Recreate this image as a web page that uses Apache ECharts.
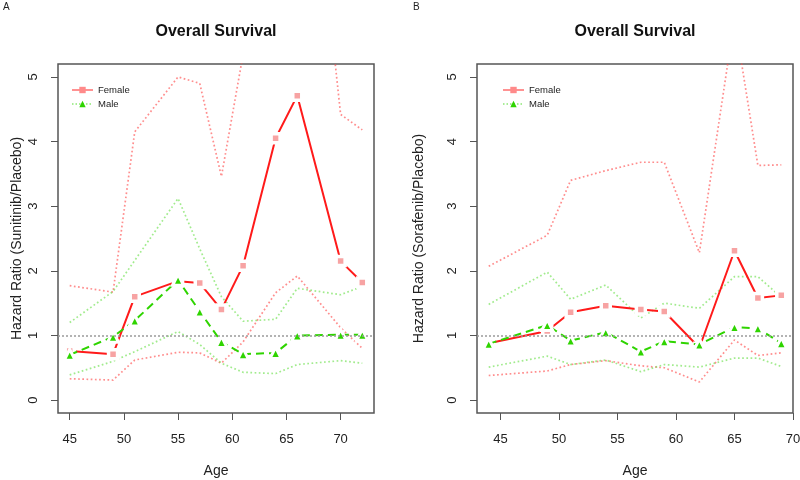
<!DOCTYPE html>
<html>
<head>
<meta charset="utf-8">
<script src="https://cdn.jsdelivr.net/npm/echarts@6/dist/echarts.min.js"></script>
<style>html,body{margin:0;padding:0;background:#fff;}#c{width:800px;height:480px;}</style>
</head>
<body>
<div id="c"></div>
<script>
// Panel A (Sunitinib)
const ageA = [45, 49, 51, 55, 57, 59, 61, 64, 66, 70, 72];
const femaleA = [0.76, 0.71, 1.60, 1.84, 1.81, 1.40, 2.08, 4.05, 4.71, 2.15, 1.82];
const femaleA_lo = [0.33, 0.31, 0.62, 0.74, 0.73, 0.57, 0.90, 1.66, 1.92, 1.12, 0.80];
const femaleA_hi = [1.77, 1.67, 4.15, 5.00, 4.90, 3.46, 5.35, 9.5, 10.7, 4.42, 4.18];
const maleA = [0.70, 0.98, 1.23, 1.86, 1.37, 0.90, 0.71, 0.73, 1.00, 1.01, 1.01];
const maleA_lo = [0.39, 0.60, 0.75, 1.06, 0.86, 0.57, 0.43, 0.41, 0.55, 0.61, 0.57];
const maleA_hi = [1.20, 1.68, 2.16, 3.12, 2.34, 1.60, 1.22, 1.25, 1.73, 1.63, 1.76];

// Panel B (Sorafenib)
const ageB = [44, 49, 51, 54, 57, 59, 62, 65, 67, 69];
const femaleB = [0.88, 1.07, 1.36, 1.46, 1.40, 1.37, 0.81, 2.31, 1.58, 1.62];
const femaleB_lo = [0.38, 0.45, 0.55, 0.61, 0.53, 0.50, 0.28, 0.93, 0.69, 0.73];
const femaleB_hi = [2.07, 2.55, 3.40, 3.55, 3.68, 3.68, 2.28, 5.9, 3.63, 3.64];
const maleB = [0.87, 1.16, 0.92, 1.05, 0.75, 0.91, 0.86, 1.13, 1.11, 0.88];
const maleB_lo = [0.51, 0.68, 0.55, 0.62, 0.44, 0.55, 0.51, 0.65, 0.65, 0.52];
const maleB_hi = [1.48, 1.98, 1.56, 1.78, 1.27, 1.50, 1.42, 1.91, 1.91, 1.59];

const xTicks = [45, 50, 55, 60, 65, 70];
const yTicks = [0, 1, 2, 3, 4, 5];
const titles = ['Overall Survival', 'Overall Survival'];
const panelLabels = ['A', 'B'];
const yNames = ['Hazard Ratio (Sunitinib/Placebo)', 'Hazard Ratio (Sorafenib/Placebo)'];
const xName = 'Age';
const refValue = 1;

const FONT = '"Liberation Sans", Arial, Helvetica, sans-serif';
const pair = (xs, ys) => xs.map((x, i) => [x, ys[i]]);

const grids = [
  {left: 58, top: 64, width: 316, height: 349},
  {left: 477, top: 64, width: 316, height: 349}
];
const xRanges = [[43.92, 73.08], [43, 70]];
const yNameGaps = [34, 51];

function xAxisFor(i) {
  return {
    gridIndex: i, type: 'value', min: xRanges[i][0], max: xRanges[i][1],
    axisLine: {show: false, onZero: false}, splitLine: {show: false},
    axisTick: {show: true, customValues: xTicks, length: 7, lineStyle: {color: '#555', width: 1}},
    axisLabel: {customValues: xTicks, fontSize: 13, color: '#222', margin: 20, fontFamily: FONT},
    name: xName, nameLocation: 'middle', nameGap: 51,
    nameTextStyle: {fontSize: 14, color: '#222', fontFamily: FONT}
  };
}
function yAxisFor(i) {
  return {
    gridIndex: i, type: 'value', min: -0.2, max: 5.2,
    axisLine: {show: false, onZero: false}, splitLine: {show: false},
    axisTick: {show: true, customValues: yTicks, length: 7, lineStyle: {color: '#555', width: 1}},
    axisLabel: {customValues: yTicks, fontSize: 13, color: '#222', margin: 18, rotate: 90, fontFamily: FONT},
    name: yNames[i], nameLocation: 'middle', nameGap: yNameGaps[i],
    nameTextStyle: {fontSize: 14, color: '#222', fontFamily: FONT}
  };
}

const fCI = {color: 'rgba(255,80,80,0.65)', width: 1.7, type: [1.7, 2.5]};
const mCI = {color: 'rgba(110,225,80,0.65)', width: 1.7, type: [1.7, 2.5]};

function ciSeries(i, name, xs, ys, style) {
  return {
    type: 'line', name: name, xAxisIndex: i, yAxisIndex: i, data: pair(xs, ys),
    showSymbol: false, symbol: 'none', lineStyle: style, silent: true, z: 1, clip: true
  };
}

function panelSeries(i, xs, f, flo, fhi, m, mlo, mhi) {
  return [
    ciSeries(i, 'Female upper ' + i, xs, fhi, fCI),
    ciSeries(i, 'Female lower ' + i, xs, flo, fCI),
    ciSeries(i, 'Male upper ' + i, xs, mhi, mCI),
    ciSeries(i, 'Male lower ' + i, xs, mlo, mCI),
    {
      type: 'line', name: 'Female', xAxisIndex: i, yAxisIndex: i, data: pair(xs, f),
      symbol: 'rect', symbolSize: 9, z: 3,
      lineStyle: {color: '#ff1a1a', width: 2},
      itemStyle: {color: '#f7a3a3', borderColor: '#ffffff', borderWidth: 3.5},
      markLine: {
        silent: true, symbol: ['none', 'none'], label: {show: false},
        lineStyle: {color: '#9a9a9a', type: [2, 2], width: 1.5},
        data: [{yAxis: refValue}]
      }
    },
    {
      type: 'line', name: 'Male', xAxisIndex: i, yAxisIndex: i, data: pair(xs, m),
      symbol: 'triangle', symbolSize: 11, z: 4,
      lineStyle: {color: '#2fd400', width: 2, type: [8, 5]},
      itemStyle: {color: '#2fd400', borderColor: '#ffffff', borderWidth: 3}
    }
  ];
}

function legendFor(left) {
  return {
    orient: 'vertical', left: left, top: 85, padding: 0,
    itemWidth: 21, itemHeight: 8, itemGap: 4,
    textStyle: {fontSize: 9.5, color: '#222', fontFamily: FONT},
    selectedMode: false,
    data: [
      {name: 'Female', itemStyle: {color: '#ff8a8a', borderWidth: 0},
       lineStyle: {color: 'rgba(255,100,100,0.7)', width: 2, type: 'solid'}},
      {name: 'Male', itemStyle: {color: '#2fd400', borderWidth: 0},
       lineStyle: {color: 'rgba(110,225,80,0.8)', width: 1.5, type: [1.5, 2]}}
    ]
  };
}

const option = {
  animation: false,
  backgroundColor: '#ffffff',
  textStyle: {fontFamily: FONT},
  title: [
    {text: titles[0], left: 216, top: 24, textAlign: 'center', padding: 0,
     textStyle: {fontSize: 16, fontWeight: 'bold', color: '#111', fontFamily: FONT}},
    {text: titles[1], left: 635, top: 24, textAlign: 'center', padding: 0,
     textStyle: {fontSize: 16, fontWeight: 'bold', color: '#111', fontFamily: FONT}},
    {text: panelLabels[0], left: 3, top: 2, padding: 0,
     textStyle: {fontSize: 10, fontWeight: 'normal', color: '#222', fontFamily: FONT}},
    {text: panelLabels[1], left: 413, top: 2, padding: 0,
     textStyle: {fontSize: 10, fontWeight: 'normal', color: '#222', fontFamily: FONT}}
  ],
  legend: [legendFor(71), legendFor(502)],
  grid: grids.map(g => Object.assign({show: true, borderColor: '#555', borderWidth: 1.5, backgroundColor: 'transparent', containLabel: false, outerBoundsMode: 'none'}, g)),
  xAxis: [xAxisFor(0), xAxisFor(1)],
  yAxis: [yAxisFor(0), yAxisFor(1)],
  series: [].concat(
    panelSeries(0, ageA, femaleA, femaleA_lo, femaleA_hi, maleA, maleA_lo, maleA_hi),
    panelSeries(1, ageB, femaleB, femaleB_lo, femaleB_hi, maleB, maleB_lo, maleB_hi)
  )
};

const chart = echarts.init(document.getElementById('c'), null, {renderer: 'canvas'});
chart.setOption(option);
</script>
</body>
</html>
